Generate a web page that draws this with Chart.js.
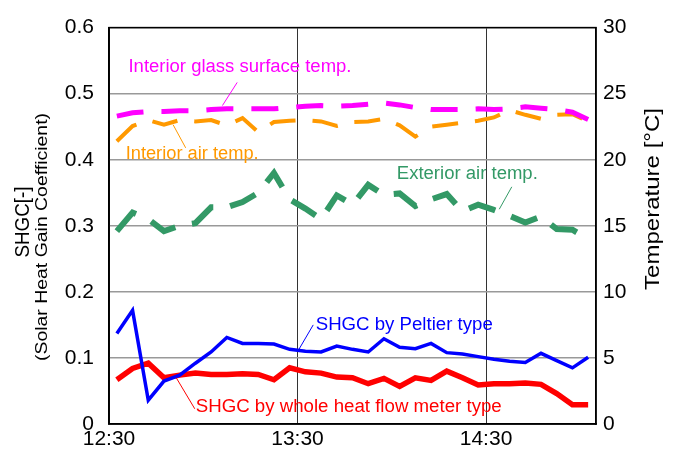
<!DOCTYPE html>
<html>
<head>
<meta charset="utf-8">
<script src="https://cdn.jsdelivr.net/npm/chart.js@4.4.0/dist/chart.umd.min.js"></script>
<style>
  html, body { margin: 0; padding: 0; background: #fff; }
  #wrap { width: 678px; height: 456px; position: relative; }
</style>
</head>
<body>
<div id="wrap"><canvas id="shgcChart"></canvas></div>
<script>
// minutes after 12:30, one sample every 5 min
const minutes = [2.5, 7.5, 12.5, 17.5, 22.5, 27.5, 32.5, 37.5, 42.5, 47.5, 52.5, 57.5, 62.5, 67.5, 72.5, 77.5,
  82.5, 87.5, 92.5, 97.5, 102.5, 107.5, 112.5, 117.5, 122.5, 127.5, 132.5, 137.5, 142.5, 147.5, 152.5];
const xTickValues = [0, 60, 120];
const xTickLabels = ["12:30", "13:30", "14:30"];

const shgcPeltier = [0.137, 0.172, 0.036, 0.065, 0.074, 0.092, 0.109, 0.131, 0.122, 0.122, 0.121, 0.113, 0.110, 0.109, 0.118, 0.113,
  0.109, 0.129, 0.116, 0.114, 0.122, 0.108, 0.106, 0.102, 0.098, 0.095, 0.093, 0.107, 0.096, 0.085, 0.101];
const shgcWholeHeatFlow = [0.067, 0.084, 0.092, 0.070, 0.074, 0.077, 0.075, 0.075, 0.076, 0.075, 0.067, 0.085, 0.079, 0.077, 0.071, 0.070,
  0.061, 0.069, 0.057, 0.070, 0.066, 0.080, 0.070, 0.059, 0.061, 0.061, 0.062, 0.060, 0.046, 0.029, 0.029];
const glassSurfaceTemp = [23.3, 23.55, 23.65, 23.65, 23.7, 23.7, 23.8, 23.85, 23.85, 23.85, 23.85, 23.95, 24.05, 24.1, 24.05, 24.1,
  24.2, 24.3, 24.15, 23.95, 23.8, 23.8, 23.8, 23.85, 23.8, 23.85, 24.0, 23.9, 23.8, 23.6, 23.05];
const interiorAirTemp = [21.4, 22.55, 23.0, 22.65, 23.0, 22.9, 23.0, 22.6, 23.15, 22.1, 22.85, 22.95, 23.0, 22.9, 22.55, 22.85,
  22.9, 23.1, 22.6, 21.75, 22.5, 22.65, 22.8, 22.95, 23.2, 23.75, 23.4, 23.1, 23.4, 23.45, 22.9];
const exteriorAirTemp = [14.6, 16.0, 15.5, 14.6, 15.0, 15.2, 16.4, 16.4, 16.8, 17.5, 19.0, 17.0, 16.3, 15.5, 17.3, 16.6,
  18.1, 17.35, 17.45, 16.5, 17.0, 17.4, 16.1, 16.6, 16.2, 15.75, 15.25, 15.7, 14.75, 14.7, 14.0];

const FONT = "'Liberation Sans', Arial, sans-serif";

function toPoints(values) {
  return values.map((v, i) => ({ x: minutes[i], y: v }));
}

// label text (left edge / middle, in minutes and SHGC units) plus a leader line
const callouts = [
  { text: "Interior glass surface temp.", color: "#ff00ff", x: 6.2, y: 0.540, width: 223, lead: [[40.8, 0.517], [36.1, 0.482]] },
  { text: "Interior air temp.", color: "#ff9900", x: 5.3, y: 0.409, width: 133, lead: [[20.4, 0.453], [24.4, 0.418]] },
  { text: "Exterior air temp.", color: "#339966", x: 91.6, y: 0.378, width: 141, lead: [[128.2, 0.359], [124.2, 0.325]] },
  { text: "SHGC by Peltier type", color: "#0000ff", x: 65.8, y: 0.150, width: 177, lead: [[65.0, 0.150], [60.2, 0.111]] },
  { text: "SHGC by whole heat flow meter type", color: "#ff0000", x: 27.6, y: 0.025, width: 306, lead: [[27.3, 0.023], [21.4, 0.070]] }
];

function drawFitted(ctx, text, px, py, size, width, color, align, angle) {
  ctx.save();
  ctx.font = size + "px " + FONT;
  ctx.fillStyle = color;
  ctx.textAlign = align;
  ctx.textBaseline = "middle";
  ctx.translate(px, py);
  if (angle) ctx.rotate(angle);
  const w = ctx.measureText(text).width;
  ctx.scale(width / w, 1);
  ctx.fillText(text, 0, 0);
  ctx.restore();
}

const decorPlugin = {
  id: "decor",
  afterDatasetsDraw(chart) {
    const { ctx, chartArea, scales: { x, y } } = chart;
    ctx.save();
    callouts.forEach(c => {
      ctx.strokeStyle = c.color;
      ctx.lineWidth = 1;
      ctx.beginPath();
      ctx.moveTo(x.getPixelForValue(c.lead[0][0]), y.getPixelForValue(c.lead[0][1]));
      ctx.lineTo(x.getPixelForValue(c.lead[1][0]), y.getPixelForValue(c.lead[1][1]));
      ctx.stroke();
      drawFitted(ctx, c.text, x.getPixelForValue(c.x), y.getPixelForValue(c.y), 18, c.width, c.color, "left");
    });

    // frame
    ctx.strokeStyle = "#000";
    ctx.lineWidth = 1.5;
    ctx.strokeRect(chartArea.left, chartArea.top, chartArea.right - chartArea.left, chartArea.bottom - chartArea.top);

    // axis titles
    drawFitted(ctx, "SHGC[-]", 23, 222, 21, 71, "#000", "center", -Math.PI / 2);
    drawFitted(ctx, "(Solar Heat Gain Coefficient)", 43, 237, 16, 248, "#000", "center", -Math.PI / 2);
    drawFitted(ctx, "Temperature [°C]", 653, 199, 21, 182, "#000", "center", -Math.PI / 2);
    ctx.restore();
  }
};

const tickFont = { family: FONT, size: 21 };

new Chart(document.getElementById("shgcChart"), {
  type: "line",
  data: {
    datasets: [
      { label: "SHGC by Peltier type", data: toPoints(shgcPeltier), yAxisID: "y",
        borderColor: "#0000ff", borderWidth: 3.5 },
      { label: "SHGC by whole heat flow meter type", data: toPoints(shgcWholeHeatFlow), yAxisID: "y",
        borderColor: "#ff0000", borderWidth: 5.5 },
      { label: "Interior glass surface temp.", data: toPoints(glassSurfaceTemp), yAxisID: "y1",
        borderColor: "#ff00ff", borderWidth: 5, borderDash: [27, 18] },
      { label: "Interior air temp.", data: toPoints(interiorAirTemp), yAxisID: "y1",
        borderColor: "#ff9900", borderWidth: 4, borderDash: [26, 17] },
      { label: "Exterior air temp.", data: toPoints(exteriorAirTemp), yAxisID: "y1",
        borderColor: "#339966", borderWidth: 6, borderDash: [28, 17] }
    ]
  },
  options: {
    responsive: true,
    maintainAspectRatio: false,
    animation: false,
    layout: { padding: { top: 16, left: 0, right: 0, bottom: 0 } },
    elements: { point: { radius: 0 }, line: { tension: 0, borderCapStyle: "butt", borderJoinStyle: "miter" } },
    plugins: { legend: { display: false }, tooltip: { enabled: false } },
    scales: {
      x: {
        type: "linear", min: 0, max: 155,
        afterBuildTicks: scale => { scale.ticks = xTickValues.map(v => ({ value: v })); },
        afterFit: scale => { scale.height = 32; },
        ticks: { font: tickFont, color: "#000", padding: 3, maxRotation: 0,
          callback: (v, i) => xTickLabels[i] },
        grid: { color: "#333", lineWidth: 1, drawTicks: false },
        border: { display: true, color: "#000", width: 1.5 }
      },
      y: {
        position: "left", min: 0, max: 0.6,
        afterFit: scale => { scale.width = 109; },
        ticks: { stepSize: 0.1, font: tickFont, color: "#000", padding: 15,
          callback: v => v === 0 ? "0" : v.toFixed(1) },
        grid: { color: "#999", lineWidth: 1.5, drawTicks: false },
        border: { display: true, color: "#000", width: 1.5 }
      },
      y1: {
        position: "right", min: 0, max: 30,
        afterFit: scale => { scale.width = 82; },
        ticks: { stepSize: 5, font: tickFont, color: "#000", padding: 7 },
        grid: { drawOnChartArea: false, drawTicks: false },
        border: { display: true, color: "#000", width: 1.5 }
      }
    }
  },
  plugins: [decorPlugin]
});
</script>
</body>
</html>
